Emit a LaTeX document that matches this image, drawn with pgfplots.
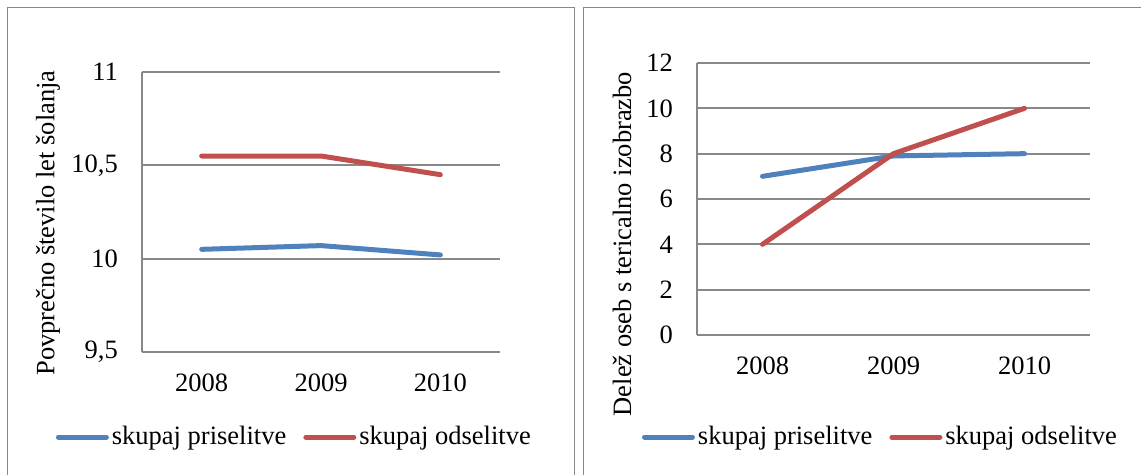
\documentclass[border=0pt]{standalone}
\usepackage{fontspec}
\setmainfont{Liberation Serif}
\usepackage{pgfplots}
\pgfplotsset{compat=1.18}

\definecolor{serblue}{HTML}{4F81BD}
\definecolor{serred}{HTML}{C0504D}
\definecolor{gridgray}{HTML}{888888}

\pgfplotsset{
  panel/.style={
    scale only axis,
    anchor=south west,
    xmin=0.5, xmax=3.5,
    xtick={1,2,3},
    xticklabels={2008,2009,2010},
    axis x line*=bottom,
    axis y line*=left,
    axis line style={gridgray, line width=2pt},
    ymajorgrids=true,
    grid style={gridgray, line width=2pt},
    major tick length=0pt,
    /pgf/number format/.cd, use comma, assume math mode=true,
    /pgfplots/.cd,
    yticklabel style={anchor=east, inner sep=0pt, xshift=-24pt},
    xticklabel style={anchor=north, inner sep=0pt, yshift=-22pt},
    legend columns=2,
    legend style={draw=none, fill=none, anchor=center,
      nodes={inner sep=3pt},
      /tikz/every even column/.append style={column sep=14pt}},
    legend image code/.code={\draw[#1] (0pt,0pt) -- (48pt,0pt);},
    every axis plot/.append style={line width=5pt, line cap=round, line join=round},
  },
}

\begin{document}
\fontsize{26.5pt}{31pt}\selectfont
\begin{tikzpicture}[x=1pt,y=1pt]
\path[use as bounding box] (0,0) rectangle (1141,475);
% panel frames
\draw[gridgray, line width=1.5pt] (7.5,0) -- (7.5,467.5) -- (574.5,467.5) -- (574.5,0);
\draw[gridgray, line width=1.5pt] (583.5,0) -- (583.5,467.5) -- (1141,467.5);

% left chart
\begin{axis}[panel,
  at={(142pt,123pt)}, width=358pt, height=280pt,
  ymin=9.5, ymax=11, ytick={9.5,10,10.5,11},
  legend style={at={(0.427,-0.304)}},
]
\addplot[serblue] coordinates {(1,10.05) (2,10.07) (3,10.02)};
\addplot[serred] coordinates {(1,10.55) (2,10.55) (3,10.45)};
\legend{skupaj priselitve, skupaj odselitve}
\end{axis}
\node[rotate=90] at (48,252) {Povprečno število let šolanja};

% right chart
\begin{axis}[panel,
  at={(697pt,140pt)}, width=393pt, height=272pt,
  ymin=0, ymax=12, ytick={0,2,...,12},
  legend style={at={(0.468,-0.375)}},
]
\addplot[serblue] coordinates {(1,7) (2,7.9) (3,8)};
\addplot[serred] coordinates {(1,4) (2,8) (3,10)};
\legend{skupaj priselitve, skupaj odselitve}
\end{axis}
\node[rotate=90] at (622,231) {Delež oseb s tericalno izobrazbo};
\end{tikzpicture}
\end{document}
